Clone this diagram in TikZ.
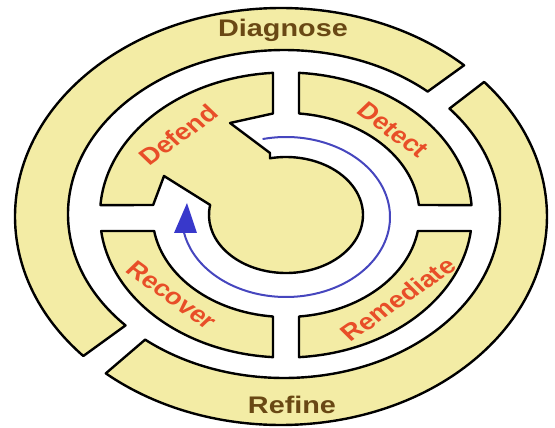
\documentclass[tikz,border=0pt]{standalone}
\usepackage{fontspec}
\setmainfont{Liberation Sans}

\definecolor{ringyellow}{RGB}{243,236,165}
\definecolor{stepred}{RGB}{232,78,40}
\definecolor{ringbrown}{RGB}{105,72,20}
\definecolor{loopblue}{RGB}{70,70,190}

\tikzset{
  ring/.style={fill=ringyellow, draw=black, line width=2.4pt, line join=round},
  outerlabel/.style={text=ringbrown, font=\fontsize{24}{24}\selectfont\bfseries, xscale=1.2},
  steplabel/.style={text=stepred, font=\fontsize{23}{23}\selectfont\bfseries, xscale=1.2},
}

\begin{document}
\begin{tikzpicture}[x=1pt, y=1pt]
\useasboundingbox (-286,-213) rectangle (269,215);
% outer ring, two pieces
\filldraw[ring] ([shift={(-5,-1.5)}]46.5:266 and 208.5) arc[start angle=46.5, end angle=222, x radius=266, y radius=208.5]
  -- ([shift={(-2,1)}]222.8:216 and 164) arc[start angle=222.8, end angle=48.3, x radius=216, y radius=164] -- cycle;
\filldraw[ring] ([shift={(-5,-1.5)}]228.8:266 and 208.5) arc[start angle=228.8, end angle=400.2, x radius=266, y radius=208.5]
  -- ([shift={(-2,1)}]400:216 and 164) arc[start angle=400, end angle=230, x radius=216, y radius=164] -- cycle;
% middle ring
\filldraw[ring] (86:186 and 142.5) arc[start angle=86, end angle=4, x radius=186, y radius=142.5]
  -- (5.6:133.5 and 102) arc[start angle=5.6, end angle=84.4, x radius=133.5, y radius=102] -- cycle;
\filldraw[ring] (-6.45:186 and 142.5) arc[start angle=-6.45, end angle=-86, x radius=186, y radius=142.5]
  -- (-84.4:133.5 and 102) arc[start angle=-84.4, end angle=-9, x radius=133.5, y radius=102] -- cycle;
\filldraw[ring] (-94:186 and 142.5) arc[start angle=-94, end angle=-173.55, x radius=186, y radius=142.5]
  -- (-171:133.5 and 102) arc[start angle=-171, end angle=-95.6, x radius=133.5, y radius=102] -- cycle;
% defend piece with the hub
\filldraw[ring] (94:186 and 142.5) arc[start angle=94, end angle=176, x radius=186, y radius=142.5]
  -- (174.4:133.5 and 102) -- (-122,39) -- (170:77 and 58)
  arc[start angle=170, end angle=462, x radius=77, y radius=58]
  -- (-16,62) -- (-56,92) -- (95.6:133.5 and 102) -- cycle;
% loop arrow
\draw[loopblue, line width=2pt]
  ([shift={(0,-2)}]103:104 and 80) arc[start angle=103, end angle=-169, x radius=104, y radius=80];
\fill[loopblue!80!blue] (-112,-18) -- (-99,12) -- (-89,-18) -- cycle;

\node[outerlabel] (diagnose) at (-3,185) {Diagnose};
\node[outerlabel] (refine) at (6,-190) {Refine};
\node[steplabel, rotate=41] (defend) at (-108,80) {Defend};
\node[steplabel, rotate=-41] (detect) at (107,85) {Detect};
\node[steplabel, rotate=-41] (recover) at (-114,-80) {Recover};
\node[steplabel, rotate=40] (remediate) at (112,-84) {Remediate};
\end{tikzpicture}
\end{document}
